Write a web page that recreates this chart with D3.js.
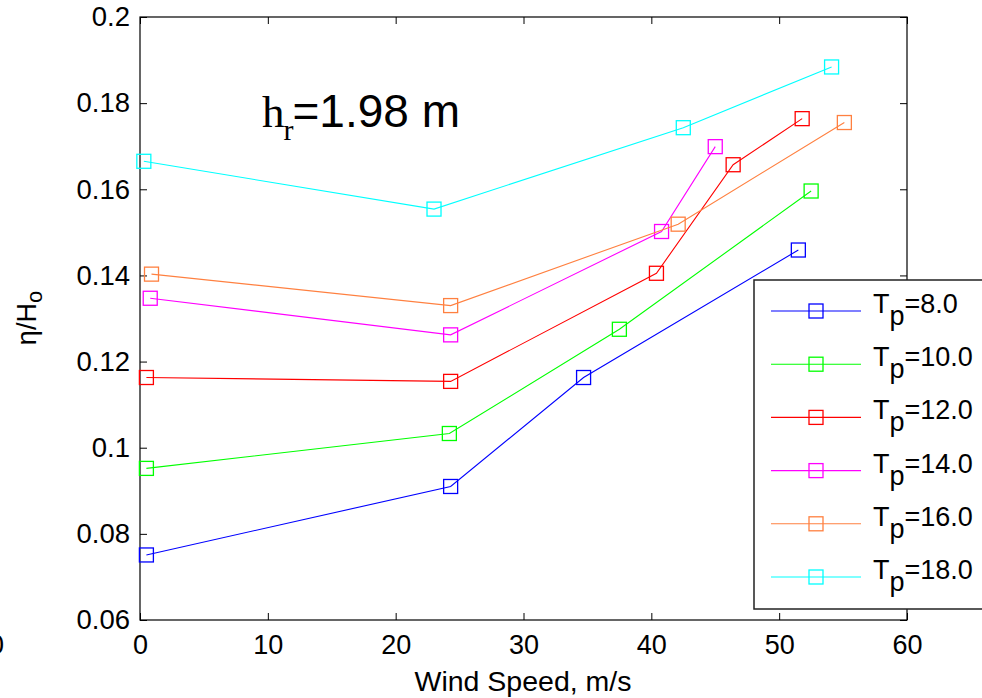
<!DOCTYPE html>
<html>
<head>
<meta charset="utf-8">
<script src="https://cdn.jsdelivr.net/npm/d3@7"></script>
<style>
  html, body { margin: 0; padding: 0; background: #fff; }
  svg { display: block; }
</style>
</head>
<body>
<svg id="chart" width="982" height="698"></svg>
<script>
// Wave setup ratio vs wind speed, one series per peak period
const periods = ["8.0", "10.0", "12.0", "14.0", "16.0", "18.0"];
const colors = ["#0000ff", "#00ff00", "#ff0000", "#ff00ff", "#ff8040", "#00ffff"];

const windTp8  = [0.5, 24.3, 34.7, 51.5];
const etaTp8   = [0.0751, 0.0910, 0.1163, 0.1459];
const windTp10 = [0.5, 24.2, 37.5, 52.5];
const etaTp10  = [0.0952, 0.1033, 0.1275, 0.1596];
const windTp12 = [0.5, 24.3, 40.4, 46.4, 51.8];
const etaTp12  = [0.1163, 0.1154, 0.1405, 0.1657, 0.1764];
const windTp14 = [0.8, 24.3, 40.8, 45.0];
const etaTp14  = [0.1347, 0.1262, 0.1502, 0.1699];
const windTp16 = [0.9, 24.3, 42.1, 55.1];
const etaTp16  = [0.1403, 0.1330, 0.1519, 0.1755];
const windTp18 = [0.3, 23.0, 42.5, 54.1];
const etaTp18  = [0.1665, 0.1554, 0.1743, 0.1884];

const xTicks = [0, 10, 20, 30, 40, 50, 60];
const yTicks = [0.06, 0.08, 0.1, 0.12, 0.14, 0.16, 0.18, 0.2];
const yTickLabels = ["0.06", "0.08", "0.1", "0.12", "0.14", "0.16", "0.18", "0.2"];

const winds = [windTp8, windTp10, windTp12, windTp14, windTp16, windTp18];
const etas  = [etaTp8, etaTp10, etaTp12, etaTp14, etaTp16, etaTp18];
const series = periods.map((p, i) => ({
  period: p,
  color: colors[i],
  points: winds[i].map((w, j) => ({ w, e: etas[i][j] }))
}));

const SANS = "'Liberation Sans', Arial, Helvetica, sans-serif";
const SERIF = "'Liberation Serif', 'Times New Roman', serif";

const svg = d3.select("#chart");
const L = 140, R = 907, T = 17, B = 620;

const x = d3.scaleLinear().domain([0, 60]).range([L, R]);
const y = d3.scaleLinear().domain([0.06, 0.2]).range([B, T]);

// axes (ticks point inward, box style)
const fmtY = d => yTickLabels[yTicks.findIndex(t => Math.abs(t - d) < 1e-9)];

const gB = svg.append("g").attr("transform", `translate(0,${B})`)
  .call(d3.axisBottom(x).tickValues(xTicks).tickSizeInner(-7).tickSizeOuter(0).tickPadding(15));
const gT = svg.append("g").attr("transform", `translate(0,${T})`)
  .call(d3.axisTop(x).tickValues(xTicks).tickSizeInner(-7).tickSizeOuter(0).tickFormat(""));
const gL = svg.append("g").attr("transform", `translate(${L},0)`)
  .call(d3.axisLeft(y).tickValues(yTicks).tickSizeInner(-7).tickSizeOuter(0).tickPadding(10).tickFormat(fmtY));
const gR = svg.append("g").attr("transform", `translate(${R},0)`)
  .call(d3.axisRight(y).tickValues(yTicks).tickSizeInner(-7).tickSizeOuter(0).tickFormat(""));

[gB, gT, gL, gR].forEach(g => {
  g.select(".domain").remove();
  g.selectAll(".tick line").attr("stroke", "#000").attr("stroke-width", 1);
  g.selectAll("text").attr("font-family", SANS).attr("font-size", 27).attr("fill", "#000");
});
gL.selectAll("text").attr("font-size", 27.5);

svg.append("rect")
  .attr("x", L).attr("y", T).attr("width", R - L).attr("height", B - T)
  .attr("fill", "none").attr("stroke", "#000").attr("stroke-width", 1.2);

// series lines and square markers
const line = d3.line().x(d => x(d.w)).y(d => y(d.e));
const gS = svg.append("g");
series.forEach(s => {
  gS.append("path").datum(s.points)
    .attr("d", line).attr("fill", "none")
    .attr("stroke", s.color).attr("stroke-width", 1.1);
  gS.selectAll(null).data(s.points).enter().append("rect")
    .attr("x", d => x(d.w) - 7).attr("y", d => y(d.e) - 7)
    .attr("width", 14).attr("height", 14)
    .attr("fill", "none").attr("stroke", s.color).attr("stroke-width", 1.3);
});

// annotation
const ann = svg.append("text").attr("x", 262).attr("y", 127).attr("fill", "#000");
ann.append("tspan").attr("font-family", SERIF).attr("font-size", 45).text("h");
ann.append("tspan").attr("font-family", SERIF).attr("font-size", 30).attr("dy", 13).attr("dx", -1).text("r");
ann.append("tspan").attr("font-family", SANS).attr("font-size", 46).attr("dy", -13).attr("dx", -1).text("=1.98 m");

// axis titles
svg.append("text")
  .attr("x", 523).attr("y", 691).attr("text-anchor", "middle")
  .attr("font-family", SANS).attr("font-size", 28.5).attr("fill", "#000")
  .text("Wind Speed, m/s");

const yt = svg.append("text")
  .attr("transform", "translate(36,318) rotate(-90)")
  .attr("text-anchor", "middle")
  .attr("font-family", SANS).attr("font-size", 27).attr("fill", "#000");
yt.append("tspan").text("η/H");
yt.append("tspan").attr("font-size", 22).attr("dy", 6).text("o");

// partially visible label at the left edge
svg.append("text")
  .attr("x", 4).attr("y", 654).attr("text-anchor", "end")
  .attr("font-family", SANS).attr("font-size", 27).attr("fill", "#000")
  .text("0");

// legend
const lg = svg.append("g");
lg.append("rect")
  .attr("x", 754).attr("y", 280).attr("width", 300).attr("height", 329)
  .attr("fill", "#fff").attr("stroke", "#222").attr("stroke-width", 1.5);
series.forEach((s, i) => {
  const cy = 311 + i * 53.2;
  lg.append("line").attr("x1", 771).attr("x2", 861).attr("y1", cy).attr("y2", cy)
    .attr("stroke", s.color).attr("stroke-width", 1.1);
  lg.append("rect").attr("x", 809).attr("y", cy - 7).attr("width", 14).attr("height", 14)
    .attr("fill", "none").attr("stroke", s.color).attr("stroke-width", 1.3);
  const t = lg.append("text").attr("x", 873).attr("y", cy + 2)
    .attr("font-family", SANS).attr("font-size", 27).attr("fill", "#000");
  t.append("tspan").text("T");
  t.append("tspan").attr("dy", 12).text("p");
  t.append("tspan").attr("dy", -12).text("=" + s.period);
});
</script>
</body>
</html>
